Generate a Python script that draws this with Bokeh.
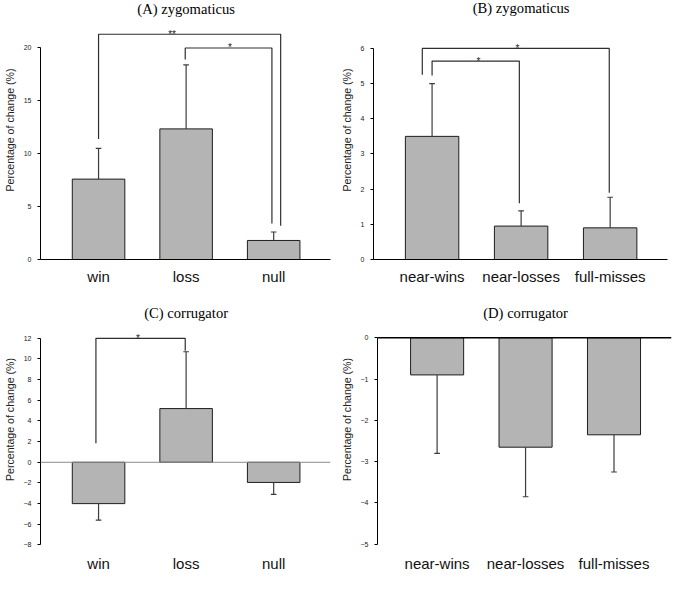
from bokeh.plotting import figure
from bokeh.models import FixedTicker, Span, Label, Range1d
from bokeh.layouts import row, column
from bokeh.embed import file_html
from bokeh.resources import INLINE

# ---------------- data ----------------
cats_A = ["win", "loss", "null"]
zyg_A = [7.6, 12.35, 1.8]
zyg_A_err = [2.9, 6.05, 0.8]

cats_B = ["near-wins", "near-losses", "full-misses"]
zyg_B = [3.5, 0.95, 0.9]
zyg_B_err = [1.5, 0.43, 0.87]

cats_C = ["win", "loss", "null"]
corr_C = [-4.0, 5.2, -1.95]
corr_C_err = [1.6, 5.5, 1.15]

cats_D = ["near-wins", "near-losses", "full-misses"]
corr_D = [-0.9, -2.65, -2.35]
corr_D_err = [1.9, 1.2, 0.9]

ticks_A = [0, 5, 10, 15, 20]
ticks_B = [0, 1, 2, 3, 4, 5, 6]
ticks_C = [-8, -6, -4, -2, 0, 2, 4, 6, 8, 10, 12]
ticks_D = [-5, -4, -3, -2, -1, 0]

titles = ["(A) zygomaticus", "(B) zygomaticus", "(C) corrugator", "(D) corrugator"]
y_label = "Percentage of change (%)"

# significance brackets:
# (left bar, left offset, left foot, top, right bar, right offset, right foot, mark, mark x)
sig_A = [
    (0, 0.0, 11.4, 21.3, 2, 0.08, 3.2, "**", 0.84),
    (1, -0.01, 18.9, 20.0, 2, -0.02, 3.4, "*", 1.50),
]
sig_B = [
    (0, -0.11, 5.25, 6.0, 2, -0.01, 1.9, "*", 0.96),
    (0, 0.0, 5.23, 5.64, 1, -0.02, 1.6, "*", 0.52),
]
sig_C = [
    (0, -0.03, 1.85, 12.0, 1, -0.01, 10.8, "*", 0.45),
]
sig_D = []

SANS = "Liberation Sans"
SERIF = "Liberation Serif"
BAR_FILL = "#b4b4b4"
INK = "#1e1e1e"


def make_panel(cats, vals, errs, ticks, title, sig, width, height,
               left, right, bottom, xr, yr, title_px, zero_style):
    p = figure(width=width, height=height, output_backend="svg",
               toolbar_location=None, x_range=Range1d(*xr), y_range=Range1d(*yr),
               min_border_left=left, min_border_right=right,
               min_border_top=0, min_border_bottom=bottom,
               background_fill_color="white", border_fill_color="white")
    p.outline_line_color = None
    p.grid.visible = False

    xs = list(range(len(cats)))

    # axes
    p.yaxis.ticker = FixedTicker(ticks=ticks)
    p.yaxis.bounds = (min(ticks), max(ticks))
    p.yaxis.axis_line_color = "black"
    p.yaxis.axis_line_width = 1
    p.yaxis.major_tick_out = 3
    p.yaxis.major_tick_in = 0
    p.yaxis.minor_tick_line_color = None
    p.yaxis.major_tick_line_color = "black"
    p.yaxis.major_label_text_font = SANS
    p.yaxis.major_label_text_font_size = "7px"
    p.yaxis.major_label_text_color = "#222222"
    p.yaxis.major_label_standoff = 6
    p.yaxis.axis_label = y_label
    p.yaxis.axis_label_text_font = SANS
    p.yaxis.axis_label_text_font_size = "10.6px"
    p.yaxis.axis_label_text_font_style = "normal"
    p.yaxis.axis_label_text_color = "#222222"
    p.yaxis.axis_label_standoff = 5

    p.xaxis.ticker = FixedTicker(ticks=xs)
    p.xaxis.major_label_overrides = {i: c for i, c in zip(xs, cats)}
    p.xaxis.major_tick_out = 0
    p.xaxis.major_tick_in = 0
    p.xaxis.minor_tick_line_color = None
    p.xaxis.major_tick_line_color = None
    p.xaxis.major_label_text_font = SANS
    p.xaxis.major_label_text_font_size = "15px"
    p.xaxis.major_label_text_color = "#111111"
    p.xaxis.major_label_standoff = 8
    if zero_style is None:
        p.xaxis.axis_line_color = "black"
        p.xaxis.axis_line_width = 1
    else:
        p.xaxis.axis_line_color = None
        p.add_layout(Span(location=0, dimension="width",
                          line_color=zero_style[0], line_width=zero_style[1]))

    # bars
    p.vbar(x=xs, width=0.6, bottom=0, top=vals, fill_color=BAR_FILL,
           line_color=INK, line_width=1)

    # error bars (away from zero)
    ends = [v + (e if v >= 0 else -e) for v, e in zip(vals, errs)]
    p.segment(x0=xs, y0=vals, x1=xs, y1=ends, line_color="#3c3c3c", line_width=1.2)
    cw = 0.032
    p.segment(x0=[x - cw for x in xs], y0=ends, x1=[x + cw for x in xs], y1=ends,
              line_color="#3c3c3c", line_width=1.2)

    # significance brackets
    for (i, di, yi, top, j, dj, yj, mark, mx) in sig:
        xl = xs[i] + di
        xr_ = xs[j] + dj
        p.line(x=[xl, xl, xr_, xr_], y=[yi, top, top, yj],
               line_color="#2e2e2e", line_width=1.2)
        p.add_layout(Label(x=mx, y=top, text=mark, text_align="center",
                           text_baseline="middle", text_font=SANS,
                           text_font_size="10px", text_color="#222222"))

    # panel title
    ppu = (height - bottom) / (yr[1] - yr[0])
    ty = yr[1] - title_px / ppu
    p.add_layout(Label(x=(xs[0] + xs[-1]) / 2, y=ty, text=title,
                       text_align="center", text_baseline="middle",
                       text_font=SERIF, text_font_size="14.6px",
                       text_color="black"))
    return p


pA = make_panel(cats_A, zyg_A, zyg_A_err, ticks_A, titles[0], sig_A,
                337, 292, 34, 7, 32, (-0.663, 2.649), (0, 24.49), 8.8, None)
pB = make_panel(cats_B, zyg_B, zyg_B_err, ticks_B, titles[1], sig_B,
                335, 292, 35, 5, 33, (-0.658, 2.644), (0, 7.362), 7.8, None)
pC = make_panel(cats_C, corr_C, corr_C_err, ticks_C, titles[2], sig_C,
                337, 282, 34, 7, 22, (-0.663, 2.649), (-8.151, 16.435), 21, ("#8c8c8c", 1))
pD = make_panel(cats_D, corr_D, corr_D_err, ticks_D, titles[3], sig_D,
                335, 282, 37, 1, 22, (-0.674, 2.65), (-5.054, 1.095), 21, ("black", 1.5))

layout = column(row(pA, pB), row(pC, pD))
open("out.html", "w").write(file_html(layout, INLINE))
